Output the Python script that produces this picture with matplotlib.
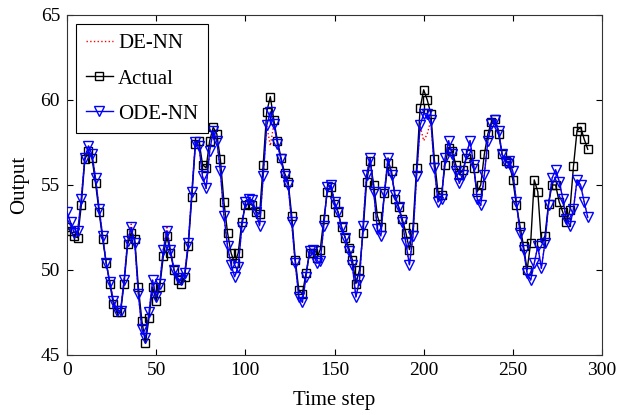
#!/usr/bin/env python3
#
# Actual output vs DE-NN and ODE-NN predictions
#

import matplotlib
matplotlib.use('Agg')
import matplotlib.pyplot as plt
import numpy as np

# time steps (every second sample)
t = np.arange(0, 293, 2)

actual = [52.5, 52.3, 52.0, 51.9, 53.8, 56.5, 57.0, 56.6, 55.1, 53.4,
          51.8, 50.4, 49.2, 48.0, 47.5, 47.5, 49.2, 51.5, 52.2, 51.8,
          49.0, 47.0, 45.7, 47.2, 49.0, 48.2, 49.0, 50.8, 52.0, 51.0,
          50.0, 49.4, 49.2, 49.6, 51.4, 54.3, 57.4, 57.6, 56.2, 56.0,
          57.6, 58.4, 58.0, 56.5, 54.0, 52.2, 51.0, 50.4, 51.0, 52.8,
          53.8, 53.9, 53.8, 53.4, 53.3, 56.2, 59.3, 60.2, 58.8, 57.6,
          56.6, 55.7, 55.2, 53.2, 50.6, 48.8, 48.6, 49.8, 51.0, 51.0,
          50.7, 51.2, 53.0, 54.6, 54.9, 53.9, 53.4, 52.5, 51.9, 51.3,
          50.6, 49.2, 50.0, 52.2, 55.2, 56.4, 55.0, 53.2, 52.5, 54.5,
          56.3, 55.8, 54.2, 53.7, 53.0, 52.2, 51.2, 52.5, 56.0, 59.5,
          60.6, 60.0, 59.2, 56.5, 54.6, 54.4, 56.2, 57.2, 57.0, 56.2,
          55.6, 55.9, 56.6, 56.8, 56.0, 54.6, 55.0, 56.8, 58.0, 58.7,
          58.9, 58.0, 56.8, 56.4, 56.3, 55.3, 53.8, 52.6, 51.4, 50.0,
          51.6, 55.3, 54.6, 51.6, 52.0, 53.9, 55.0, 55.0, 54.0, 53.4,
          52.8, 53.5, 56.1, 58.2, 58.4, 57.7, 57.1]

ode_nn = [53.4, 52.8, 52.2, 52.3, 54.2, 56.6, 57.3, 56.8, 55.4, 53.6,
          52.0, 50.4, 49.3, 48.2, 47.6, 47.6, 49.4, 51.7, 52.5, 51.6,
          48.6, 46.5, 46.0, 47.5, 49.4, 48.4, 49.2, 51.2, 52.3, 51.2,
          50.0, 49.5, 49.4, 49.8, 51.6, 54.6, 57.5, 57.3, 55.5, 54.8,
          57.0, 58.2, 57.6, 55.8, 53.2, 51.4, 50.3, 49.6, 50.2, 52.5,
          54.0, 54.2, 54.1, 53.4, 52.6, 55.5, 58.5, 59.3, 58.6, 57.4,
          56.5, 55.5, 55.0, 52.8, 50.4, 48.4, 48.1, 49.6, 51.1, 51.2,
          50.4, 50.5, 52.6, 54.9, 55.0, 54.0, 53.4, 52.5, 51.9, 51.1,
          50.3, 48.4, 49.4, 52.6, 55.6, 56.6, 54.6, 52.4, 52.0, 54.6,
          56.6, 55.6, 54.4, 53.7, 52.8, 51.6, 50.3, 52.0, 55.5, 58.5,
          59.2, 59.2, 58.8, 56.0, 54.0, 54.2, 56.6, 57.6, 56.8, 55.8,
          55.1, 55.6, 56.8, 57.6, 56.2, 54.2, 53.8, 55.6, 57.6, 58.6,
          58.8, 58.2, 56.8, 56.3, 56.4, 55.8, 54.0, 52.2, 51.2, 49.8,
          49.4, 50.4, 51.4, 50.1, 51.6, 53.8, 55.4, 55.9, 55.2, 54.2,
          53.0, 52.6, 53.6, 55.3, 55.0, 54.0, 53.1]

de_nn = [53.3, 52.8, 52.2, 52.3, 54.2, 56.6, 57.3, 56.8, 55.4, 53.6,
         52.0, 50.4, 49.3, 48.2, 47.6, 47.6, 49.4, 51.7, 52.7, 51.6,
         48.6, 46.5, 46.0, 47.5, 49.4, 48.4, 49.2, 51.2, 52.6, 51.2,
         50.0, 49.5, 49.4, 49.8, 51.6, 54.6, 57.5, 57.3, 55.5, 54.8,
         57.0, 58.2, 57.6, 55.8, 53.2, 51.4, 50.3, 49.6, 50.2, 52.5,
         54.0, 54.2, 54.1, 53.4, 52.6, 55.5, 58.5, 57.3, 58.6, 57.4,
         56.5, 55.5, 55.0, 52.8, 50.4, 48.4, 48.1, 49.6, 51.1, 51.2,
         50.4, 50.5, 52.6, 54.9, 55.0, 54.0, 53.4, 52.5, 51.9, 51.1,
         50.3, 48.4, 49.4, 52.6, 55.6, 56.6, 54.6, 52.4, 52.0, 54.6,
         56.6, 55.6, 54.4, 53.7, 52.8, 51.6, 50.3, 52.0, 55.5, 58.5,
         57.6, 58.0, 58.8, 56.0, 54.0, 54.2, 56.6, 57.6, 56.8, 55.8,
         55.1, 55.6, 56.8, 57.6, 56.2, 54.2, 53.8, 55.6, 57.6, 58.6,
         58.8, 58.2, 56.8, 56.3, 56.4, 55.8, 54.0, 52.2, 51.2, 49.8,
         49.4, 50.4, 51.4, 50.1, 51.6, 53.8, 55.4, 55.9, 55.2, 54.2,
         53.0, 52.6, 53.6, 55.3, 55.0, 54.0, 53.1]

plt.rcParams['font.family'] = ['Liberation Serif', 'DejaVu Serif']
plt.rcParams['font.size'] = 14

fig = plt.figure(figsize=(6.17, 4.15), dpi=100)
ax = fig.add_axes([0.1086, 0.1446, 0.8671, 0.8193])

ax.plot(t, de_nn, color='red', linestyle=':', linewidth=1, label='DE-NN', zorder=1)
ax.plot(t, actual, color='black', linewidth=1, marker='s', markersize=5.5,
        markerfacecolor='none', markeredgewidth=1, label='Actual', zorder=2)
ax.plot(t, ode_nn, color='blue', linewidth=1, marker='v', markersize=6.5,
        markerfacecolor='none', markeredgewidth=1, label='ODE-NN', zorder=3)

ax.set_xlim(0, 300)
ax.set_ylim(45, 65)
ax.set_xticks(np.arange(0, 301, 50))
ax.set_yticks(np.arange(45, 66, 5))
ax.tick_params(direction='in', top=True, right=True, length=4, labelsize=14, pad=5)
for s in ax.spines.values():
    s.set_linewidth(0.8)
    s.set_color('#333333')

ax.set_xlabel('Time step', fontsize=15, labelpad=9)
ax.set_ylabel('Output', fontsize=15, labelpad=8)

leg = ax.legend(loc='upper left', fontsize=15, handlelength=1.3, labelspacing=0.75,
                borderaxespad=0.45, fancybox=False, framealpha=1, edgecolor='black',
                handletextpad=0.25, borderpad=0.45)
leg.get_frame().set_linewidth(0.8)

plt.savefig('out.png', dpi=100)
